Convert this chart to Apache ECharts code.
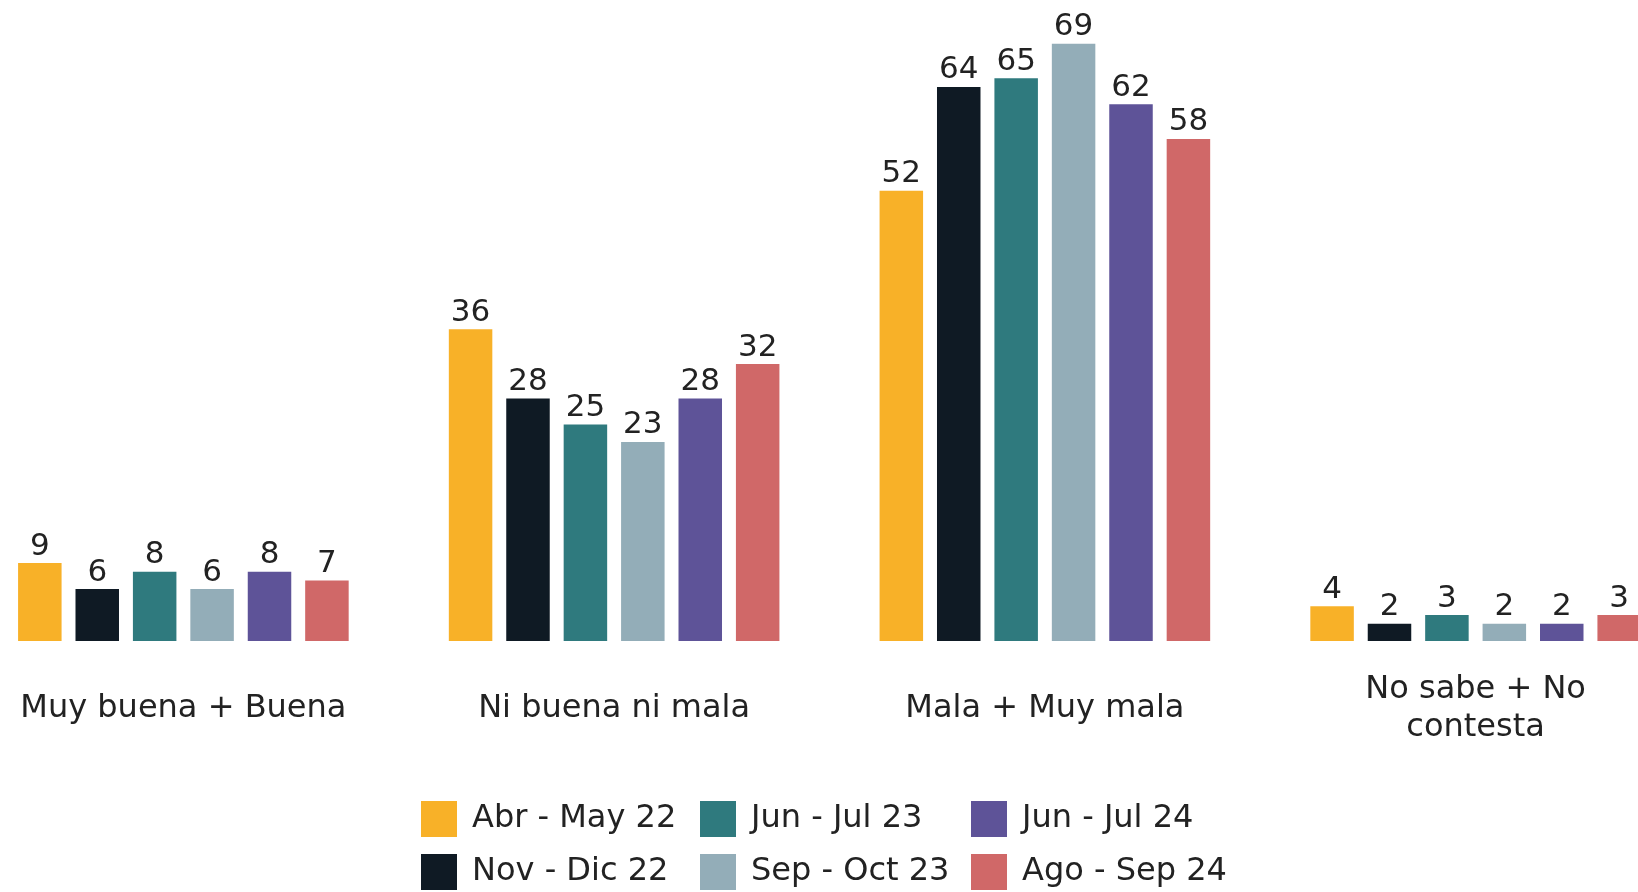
<!DOCTYPE html>
<html>
<head>
<meta charset="utf-8">
<title>Evaluación</title>
<script src="https://cdn.jsdelivr.net/npm/echarts@6/dist/echarts.min.js"></script>
<style>
  html, body { margin: 0; padding: 0; background: #fff; }
  #chart { width: 1638px; height: 892px; }
</style>
</head>
<body>
<div id="chart"></div>
<script>
// categorias del eje
var categorias = ['Muy buena + Buena', 'Ni buena ni mala', 'Mala + Muy mala', 'No sabe + No\ncontesta'];
// periodos (series)
var periodos = ['Abr - May 22', 'Nov - Dic 22', 'Jun - Jul 23', 'Sep - Oct 23', 'Jun - Jul 24', 'Ago - Sep 24'];
var colores = ['#F8B128', '#0F1A24', '#2F7A7E', '#93ADB8', '#5E5398', '#D06868'];
// valores por periodo
var abrMay22 = [9, 36, 52, 4];
var novDic22 = [6, 28, 64, 2];
var junJul23 = [8, 25, 65, 3];
var sepOct23 = [6, 23, 69, 2];
var junJul24 = [8, 28, 62, 2];
var agoSep24 = [7, 32, 58, 3];
var valores = [abrMay22, novDic22, junJul23, sepOct23, junJul24, agoSep24];

var fuente = '"DejaVu Sans", sans-serif';

var myChart = echarts.init(document.getElementById('chart'));

var series = [];
for (var i = 0; i < periodos.length; i++) {
    series.push({
        name: periodos[i],
        type: 'bar',
        data: valores[i],
        barWidth: 43.5,
        barGap: '32%',
        itemStyle: { color: colores[i] },
        label: {
            show: true,
            position: 'top',
            distance: 1,
            color: '#222',
            fontSize: 31,
            fontFamily: fuente
        }
    });
}

// leyenda en 3 columnas de 2
function leyenda(left, nombres) {
    return {
        orient: 'vertical',
        left: left,
        top: 801,
        padding: 0,
        itemWidth: 36,
        itemHeight: 36,
        itemGap: 17,
        icon: 'rect',
        data: nombres,
        textStyle: { fontSize: 32, color: '#222', fontFamily: fuente, padding: [7, 0, 0, 10] }
    };
}

var option = {
    animation: false,
    grid: { left: -32, width: 1723, top: 35, bottom: 251, containLabel: false, outerBoundsMode: 'none' },
    legend: [
        leyenda(421, [periodos[0], periodos[1]]),
        leyenda(700, [periodos[2], periodos[3]]),
        leyenda(971, [periodos[4], periodos[5]])
    ],
    xAxis: {
        type: 'category',
        data: categorias,
        axisLine: { show: false },
        axisTick: { show: false },
        axisLabel: {
            margin: 68,
            verticalAlign: 'middle',
            color: '#222',
            fontSize: 32,
            lineHeight: 38,
            fontFamily: fuente
        }
    },
    yAxis: {
        type: 'value',
        min: 0,
        max: 70,
        show: false,
        splitLine: { show: false }
    },
    series: series
};

myChart.setOption(option);
</script>
</body>
</html>
